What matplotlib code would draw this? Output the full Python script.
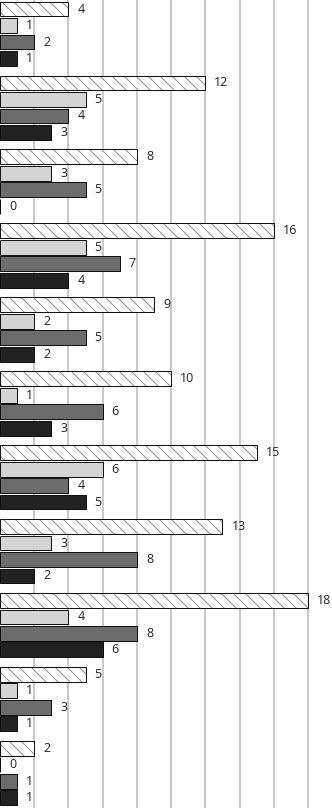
import matplotlib
matplotlib.use("Agg")
import matplotlib.pyplot as plt
import numpy as np

categories = [f"G{i+1}" for i in range(11)]
series_a = [4, 12, 8, 16, 9, 10, 15, 13, 18, 5, 2]   # hatched
series_b = [1, 5, 3, 5, 2, 1, 6, 3, 4, 1, 0]         # light gray
series_c = [2, 4, 5, 7, 5, 6, 4, 8, 8, 3, 1]         # medium gray
series_d = [1, 3, 0, 4, 2, 3, 5, 2, 6, 1, 1]         # dark

plt.rcParams['font.family'] = ['Open Sans', 'DejaVu Sans']
plt.rcParams['hatch.color'] = '#8a8a8a'
plt.rcParams['hatch.linewidth'] = 1.0

DPI = 72
fig = plt.figure(figsize=(332 / DPI, 808 / DPI), dpi=DPI)
ax = fig.add_axes([0, 0, 1, 1])

period = 74 / 16.5
h = 0.9
n = len(categories)
base = np.arange(n) * period

series = [series_a, series_b, series_c, series_d]
colors = ['white', '#d4d4d4', '#6c6c6c', '#222222']

for k, (vals, col) in enumerate(zip(series, colors)):
    y = base + k + 0.5
    if k == 0:
        ax.barh(y, vals, height=h, color='white', hatch='\\\\', edgecolor='#8a8a8a',
                linewidth=0, zorder=2)
        ax.barh(y, vals, height=h, fill=False, edgecolor='#111111', linewidth=1.0, zorder=3)
    else:
        ax.barh(y, vals, height=h, color=col, edgecolor='#111111', linewidth=1.0, zorder=3)
    for yy, v in zip(y, vals):
        ax.annotate(str(v), xy=(v, yy), xytext=(9, 0), textcoords='offset points',
                    va='center', ha='left', fontsize=12.5, color='#222222')

ax.set_xlim(0, 332 / (308 / 18))
ax.set_ylim((n - 1) * period + 4 + 2 / 16.5, -0.05)
ax.set_xticks(np.arange(2, 20, 2))
ax.xaxis.grid(True, color='#c4c4c4', linewidth=1.8, zorder=0)
ax.set_axisbelow(True)
ax.tick_params(left=False, bottom=False, labelleft=False, labelbottom=False)
for s in ax.spines.values():
    s.set_visible(False)

fig.savefig("out.png", dpi=DPI)
